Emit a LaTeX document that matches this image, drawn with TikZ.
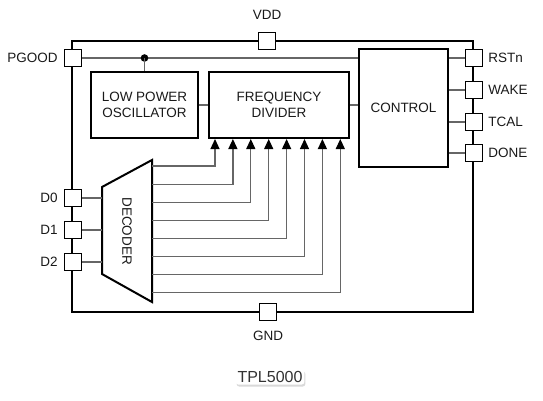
\documentclass[tikz,border=0pt]{standalone}
\usepackage{fontspec}
\setmainfont{Liberation Sans}
\usetikzlibrary{arrows.meta, positioning, shadows}

\begin{document}
\begin{tikzpicture}[
    x=1pt, y=-1pt,
    node distance=4pt,
    block/.style={rectangle, draw, line width=2pt, align=center, font=\fontsize{13.5}{16}\selectfont, text=black!90},
    pad/.style={rectangle, draw, fill=white, line width=1.2pt, minimum size=17pt, inner sep=0pt},
    pin_label/.style={font=\fontsize{13.5}{15}\selectfont, text=black!90, inner sep=1pt},
    wire/.style={draw=black!60, line width=1.2pt},
    sig_arrow/.style={wire, -{Triangle[length=10pt, width=9pt, color=black]}}
]
\useasboundingbox (0,0) rectangle (543,400);

% chip outline
\draw[line width=2.2pt] (72,41) rectangle (473,312);

% pins
\node[pad] (vdd) at (267,41) {};
\node[pad] (gnd) at (268,312) {};
\node[pad] (pgood) at (73,58) {};
\node[pad] (d0) at (73,198) {};
\node[pad] (d1) at (73,230) {};
\node[pad] (d2) at (73,262) {};
\node[pad] (rstn) at (474,58) {};
\node[pad] (wake) at (474,90) {};
\node[pad] (tcal) at (474,122) {};
\node[pad] (done) at (474,153) {};

\node[pin_label, above=11pt of vdd] {VDD};
\node[pin_label, below=9pt of gnd] {GND};
\node[pin_label, left=5pt of pgood] {PGOOD};
\node[pin_label, left=5pt of d0] {D0};
\node[pin_label, left=5pt of d1] {D1};
\node[pin_label, left=5pt of d2] {D2};
\node[pin_label, right=4pt of rstn] {RSTn};
\node[pin_label, right=4pt of wake] {WAKE};
\node[pin_label, right=4pt of tcal] {TCAL};
\node[pin_label, right=4pt of done] {DONE};

% blocks
\node[block, minimum width=107pt, minimum height=66pt] (lpo) at (144.5,105) {LOW POWER\\OSCILLATOR};
\node[block, minimum width=140pt, minimum height=66pt] (fd) at (279,105) {FREQUENCY\\DIVIDER};
\node[block, minimum width=89pt, minimum height=118pt] (ctrl) at (403.5,108) {CONTROL};

% decoder
\draw[line width=2pt] (102,187) coordinate (dec_tl) -- (152,160) coordinate (dec_tr)
    -- (152,302) coordinate (dec_br) -- (102,274) coordinate (dec_bl) -- cycle;
\node[rotate=-90, font=\fontsize{13.5}{15}\selectfont, text=black!90] (dec) at (127,231) {DECODER};

% wiring
\draw[wire] (pgood.east) -- (pgood.east -| ctrl.west);
\coordinate (junc) at (lpo.north |- pgood.east);
\fill (junc) circle (3.8pt);
\draw[wire] (junc) -- (lpo.north);
\draw[wire] (lpo) -- (fd);
\draw[wire] (fd.east) -- (fd.east -| ctrl.west);
\foreach \p in {rstn,wake,tcal,done}
    \draw[wire] (\p.west) -- (\p.west -| ctrl.east);
\foreach \p in {d0,d1,d2}
    \draw[wire] (\p.east) -- (\p.east -| dec_tl);
\foreach \i in {0,...,7}
    \draw[sig_arrow] (152,{166+18.1*\i}) -| ([xshift={7+17.9*\i}]fd.south west);

% part name
\node[font=\fontsize{16}{18}\selectfont, text=black!80, fill=white, rounded corners=3pt, inner sep=2pt,
    drop shadow={opacity=0.3, shadow xshift=1pt, shadow yshift=-2pt}] (title) at (270,377) {TPL5000};
\end{tikzpicture}
\end{document}
